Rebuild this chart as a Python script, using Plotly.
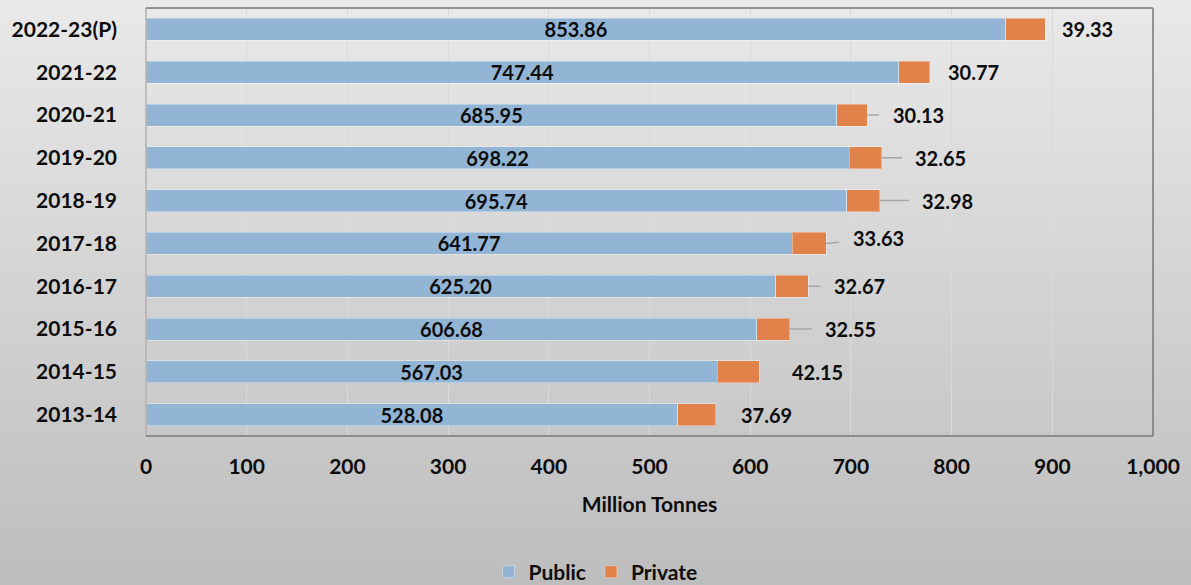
import base64, struct, zlib
import plotly.graph_objects as go

# ---------------- data ----------------
categories = ["2013-14", "2014-15", "2015-16", "2016-17", "2017-18",
              "2018-19", "2019-20", "2020-21", "2021-22", "2022-23(P)"]
public = [528.08, 567.03, 606.68, 625.20, 641.77, 695.74, 698.22, 685.95, 747.44, 853.86]
private = [37.69, 42.15, 32.55, 32.67, 33.63, 32.98, 32.65, 30.13, 30.77, 39.33]
x_ticks = [0, 100, 200, 300, 400, 500, 600, 700, 800, 900, 1000]

# ---------------- label layout (pixel offsets, leader flags) ----------------
label_dx = [51, 58, 61, 51, 52, 68, 59, 51, 44, 42]
label_dy = [0, 0, 0, 0, -5, 0, 0, 0, 0, 0]
label_leader = [False, False, True, True, True, True, True, True, False, False]

W, H = 1191, 585
ML, MR, MT, MB = 146, 38, 8, 149
FONT = "Lato"
BLUE = "#93b5d5"
ORANGE = "#e0824a"


def gradient_png(h, top, bottom):
    rows = b""
    for i in range(h):
        v = int(round(top + (bottom - top) * i / (h - 1)))
        rows += b"\x00" + bytes([v])
    def chunk(t, d):
        c = struct.pack(">I", len(d)) + t + d
        return c + struct.pack(">I", zlib.crc32(t + d) & 0xffffffff)
    png = b"\x89PNG\r\n\x1a\n"
    png += chunk(b"IHDR", struct.pack(">IIBBBBB", 1, h, 8, 0, 0, 0, 0))
    png += chunk(b"IDAT", zlib.compress(rows))
    png += chunk(b"IEND", b"")
    return "data:image/png;base64," + base64.b64encode(png).decode()


fig = go.Figure()
fig.add_trace(go.Bar(
    y=categories, x=public, orientation="h", name="Public",
    marker=dict(color=BLUE, line=dict(color="rgba(255,255,255,0.35)", width=1)),
    text=[f"{v:.2f}" for v in public], textposition="inside",
    insidetextanchor="middle", textangle=0, constraintext="none",
    textfont=dict(family=FONT, size=20, color="#0d0d0d", weight="bold"),
    hoverinfo="x+y",
))
fig.add_trace(go.Bar(
    y=categories, x=private, orientation="h", name="Private",
    marker=dict(color=ORANGE, line=dict(color="rgba(255,255,255,0.35)", width=1)),
    hoverinfo="x+y",
))

for cat, pu, pr, dx, dy, lead in zip(categories, public, private,
                                     label_dx, label_dy, label_leader):
    total = pu + pr
    common = dict(x=total, y=cat, xref="x", yref="y", text=f"{pr:.2f}",
                  font=dict(family=FONT, size=20, color="#0d0d0d", weight="bold"))
    if lead:
        fig.add_annotation(**common, showarrow=True, ax=dx, ay=dy,
                           axref="pixel", ayref="pixel", arrowhead=0,
                           arrowwidth=1.5, arrowcolor="#a6a6a6",
                           startstandoff=12, standoff=0)
    else:
        fig.add_annotation(**common, showarrow=False, xshift=dx, yshift=-dy,
                           xanchor="center")

pw = W - ML - MR
ph = H - MT - MB
fig.add_layout_image(dict(
    source=gradient_png(256, 233, 189), xref="paper", yref="paper",
    x=-ML / pw, y=1 + MT / ph, sizex=W / pw, sizey=H / ph,
    xanchor="left", yanchor="top", sizing="stretch", layer="below",
))

# plot frame
fig.add_shape(type="line", xref="paper", yref="paper", x0=0, x1=0, y0=0, y1=1,
              line=dict(color="#b3b0b0", width=1.5))
for s in [dict(x0=0, x1=1, y0=1, y1=1), dict(x0=1, x1=1, y0=0, y1=1),
          dict(x0=0, x1=1, y0=0, y1=0)]:
    fig.add_shape(type="line", xref="paper", yref="paper", **s,
                  line=dict(color="#7d7676", width=1.5))

fig.update_layout(
    width=W, height=H,
    margin=dict(l=ML, r=MR, t=MT, b=MB),
    barmode="stack", bargap=0.486,
    paper_bgcolor="#d6d6d6", plot_bgcolor="rgba(0,0,0,0)",
    font=dict(family=FONT, color="#0d0d0d"),
    xaxis=dict(range=[0, 1000], tickvals=x_ticks, tickformat=",",
               showgrid=True, gridcolor="#d9d9d9", gridwidth=1,
               zeroline=False, showline=False, ticks="",
               tickfont=dict(family=FONT, size=21, weight="bold"),
               ticklabelstandoff=16,
               title=dict(text="Million Tonnes", standoff=20,
                          font=dict(family=FONT, size=21, weight="bold"))),
    yaxis=dict(categoryorder="array", categoryarray=categories,
               range=[-0.5, 9.5], showgrid=False, zeroline=False, ticks="",
               tickfont=dict(family=FONT, size=21, weight="bold"),
               ticklabelstandoff=28),
    legend=dict(orientation="h", xref="container", yref="container",
                x=0.5, xanchor="center", y=0.022, yanchor="middle",
                traceorder="normal",
                font=dict(family=FONT, size=21, weight="bold"),
                bgcolor="rgba(0,0,0,0)", itemwidth=30, tracegroupgap=0),
    showlegend=True,
)

fig.write_html("out.html",
               config={"displayModeBar": False},
               post_script="document.body.style.margin='0';"
                           "document.body.style.overflow='hidden';")
